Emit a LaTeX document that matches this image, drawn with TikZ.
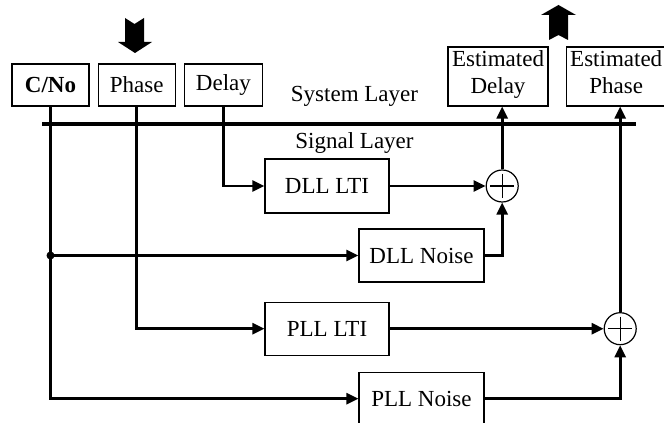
\documentclass[tikz,border=0pt]{standalone}
\usepackage{fontspec}
\setmainfont{Liberation Serif}
\usetikzlibrary{arrows.meta,positioning,calc}

\begin{document}
\begin{tikzpicture}[x=1pt, y=1pt,
    every node/.style={font=\fontsize{23}{27}\selectfont},
    box/.style={draw, line width=1.2pt, inner sep=0pt},
    sumnode/.style={draw, circle, line width=1.2pt, minimum size=32pt, inner sep=0pt,
      path picture={
        \draw[line width=1.2pt] ([yshift=-4pt]path picture bounding box.north) -- ([yshift=4pt]path picture bounding box.south);
        \draw[line width=1.2pt] ([xshift=4pt]path picture bounding box.west) -- ([xshift=-4pt]path picture bounding box.east);
      }},
    wire/.style={line width=2.6pt},
    link/.style={line width=2.6pt, -{Triangle[length=12pt,width=11pt]}},
    bigarrow/.style={fill=black}]
    \useasboundingbox (0,0) rectangle (664,423);
    % system layer inputs
    \node[box, minimum width=77pt, minimum height=42pt] (cno) at (50.5,338) {\textbf{C/No}};
    \node[box, right=8pt of cno, minimum width=77pt, minimum height=42pt] (phase) {Phase};
    \node[box, right=8pt of phase, minimum width=78pt, minimum height=42pt] (delay) {Delay};
    % system layer outputs
    \node[box, minimum width=100pt, minimum height=59pt, align=center] (estdelay) at (498,346.5) {Estimated\\Delay\strut};
    \node[box, right=17pt of estdelay, minimum width=100pt, minimum height=59pt, align=center] (estphase) {Estimated\\Phase\strut};
    % layer split
    \coordinate (layerL) at (42,299);
    \coordinate (layerR) at (636,299);
    \draw[line width=3.5pt] (layerL) -- (layerR);
    \node[anchor=base, inner sep=0pt] (syslabel) at (354.5,321) {System Layer};
    \node[anchor=base, inner sep=0pt] (siglabel) at (354.5,274) {Signal Layer};
    % signal layer blocks
    \node[box, minimum width=124pt, minimum height=54pt] (dlllti) at (327,237) {DLL LTI};
    \node[box, minimum width=125pt, minimum height=53pt] (dllnoise) at (421.5,167.5) {DLL Noise};
    \node[box, below=88pt of dlllti, minimum width=124pt, minimum height=53pt] (plllti) {PLL LTI};
    \node[box, below=89pt of dllnoise, minimum width=125pt, minimum height=53pt] (pllnoise) {PLL Noise};
    \node[sumnode, right=96pt of dlllti] (sum1) {};
    \node[sumnode, right=214pt of plllti] (sum2) {};
    % connections
    \coordinate (split) at (cno.south |- dllnoise.west);
    \draw[link] (cno.south) |- (pllnoise.west);
    \draw[link] (split) -- (dllnoise.west);
    \fill (split) circle (4pt);
    \draw[link] (phase.south) |- (plllti.west);
    \draw[link] (delay.south) |- (dlllti.west);
    \draw[link] (dlllti.east) -- (sum1.west);
    \draw[link] (dllnoise.east) -| (sum1.south);
    \draw[link] (plllti.east) -- (sum2.west);
    \draw[link] (pllnoise.east) -| (sum2.south);
    \draw[link] (sum1.north) -- (sum1 |- estdelay.south);
    \draw[link] (sum2.north) -- (sum2 |- estphase.south);
    % block arrows in and out
    \fill[bigarrow] (125,405) -- (134.5,399) -- (144,405) -- (144,381) -- (152,381)
      -- (135,370) -- (118,381) -- (125,381) -- cycle;
    \fill[bigarrow] (549,383) -- (558.5,388) -- (568,383) -- (568,408) -- (576,408)
      -- (558.5,418) -- (541,408) -- (549,408) -- cycle;
\end{tikzpicture}
\end{document}
